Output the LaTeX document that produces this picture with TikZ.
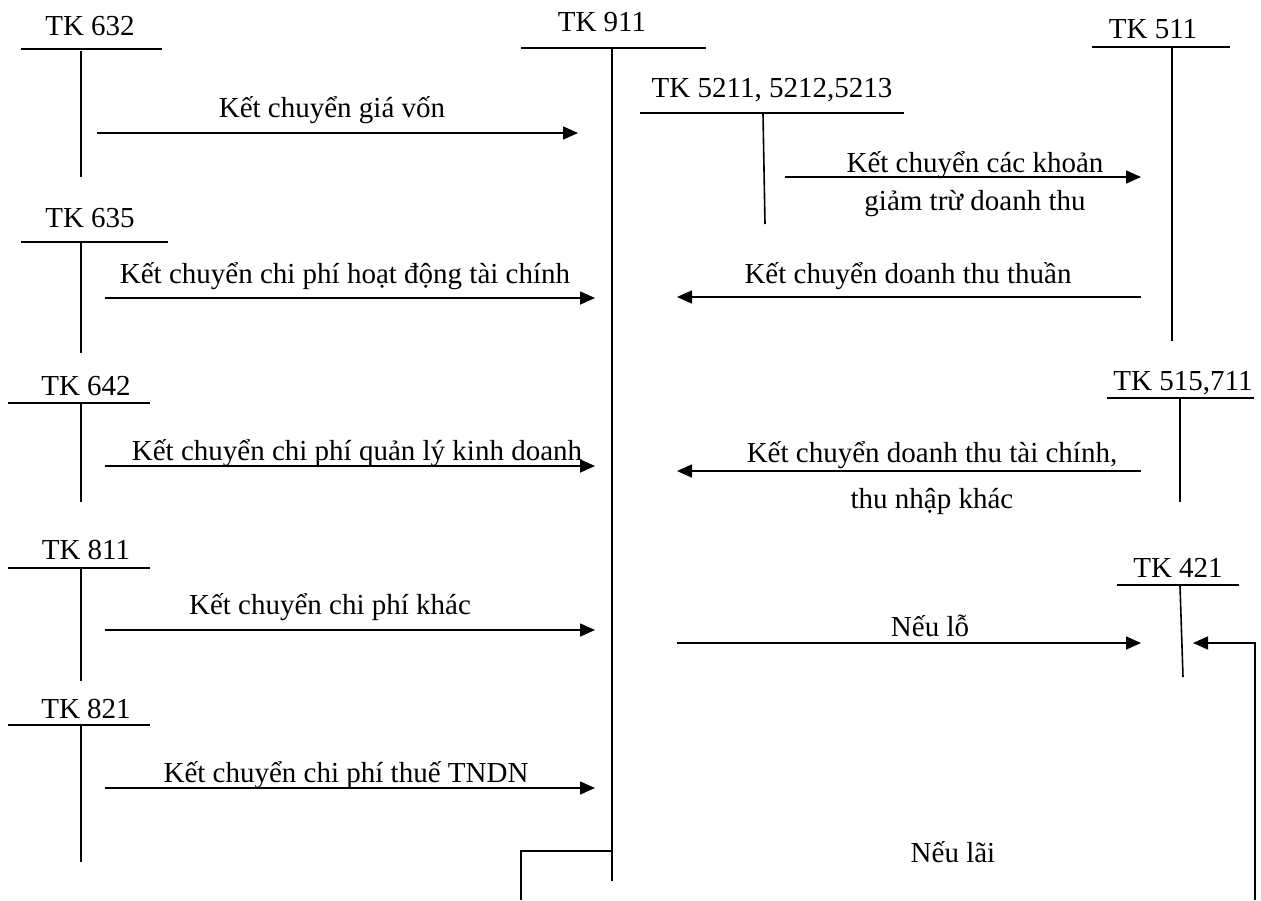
\documentclass[tikz,border=0pt]{standalone}
\usepackage{fontspec}
\setmainfont{Liberation Serif}
\usetikzlibrary{arrows.meta}
\begin{document}
\begin{tikzpicture}[x=1pt,y=-1pt,
  line width=1.6pt,
  lbl/.style={anchor=base,inner sep=0pt,font=\fontsize{29}{34}\selectfont},
  flow/.style={-{Triangle[length=15pt,width=13pt]}},
  pt/.style={inner sep=0pt,minimum size=0pt}]
\useasboundingbox (0,0) rectangle (1261,900);

% ---- T-accounts: name, top bar, stem ----
% TK 632
\node[lbl] (n632) at (90,35) {TK 632};
\draw (21,49) -- (162,49);
\draw (81,51) coordinate (a632) -- (81,177) coordinate (b632);
% TK 911
\node[lbl] (n911) at (602,31) {TK 911};
\draw (521,48) -- (706,48);
\draw (612,49) coordinate (a911) -- (612,881) coordinate (b911);
% TK 5211, 5212, 5213
\node[lbl] (n521) at (772,97) {TK 5211, 5212,5213};
\draw (640,113) -- (904,113);
\draw (763,114) coordinate (a521) -- (765,224) coordinate (b521);
% TK 511
\node[lbl] (n511) at (1153,38) {TK 511};
\draw (1092,47) -- (1230,47);
\draw (1172,48) coordinate (a511) -- (1172,341) coordinate (b511);
% TK 635
\node[lbl] (n635) at (90,227) {TK 635};
\draw (21,242) -- (168,242);
\draw (81,243) coordinate (a635) -- (81,353) coordinate (b635);
% TK 642
\node[lbl] (n642) at (86,395) {TK 642};
\draw (8,403) -- (150,403);
\draw (81,404) coordinate (a642) -- (81,502) coordinate (b642);
% TK 515,711
\node[lbl] (n515) at (1183,390) {TK 515,711};
\draw (1107,398) -- (1254,398);
\draw (1180,399) coordinate (a515) -- (1180,502) coordinate (b515);
% TK 811
\node[lbl] (n811) at (86,559) {TK 811};
\draw (8,568) -- (150,568);
\draw (81,569) coordinate (a811) -- (81,681) coordinate (b811);
% TK 421
\node[lbl] (n421) at (1178,577) {TK 421};
\draw (1117,585) -- (1239,585);
\draw (1180,586) coordinate (a421) -- (1183,677) coordinate (b421);
% TK 821
\node[lbl] (n821) at (86,718) {TK 821};
\draw (8,725) -- (150,725);
\draw (81,726) coordinate (a821) -- (81,862) coordinate (b821);

% ---- transfer arrows ----
\coordinate (s1) at (97,133);   \coordinate (e1) at (578,133);
\draw[flow] (s1) -- (e1);
\node[lbl] (t1) at (332,117) {Kết chuyển giá vốn};

\coordinate (s2) at (785,177);  \coordinate (e2) at (1141,177);
\draw[flow] (s2) -- (e2);
\node[lbl] (t2a) at (975,172) {Kết chuyển các khoản};
\node[lbl] (t2b) at (975,210) {giảm trừ doanh thu};

\coordinate (s3) at (105,298);  \coordinate (e3) at (595,298);
\draw[flow] (s3) -- (e3);
\node[lbl] (t3) at (345,283) {Kết chuyển chi phí hoạt động tài chính};

\coordinate (s4) at (1141,297); \coordinate (e4) at (677,297);
\draw[flow] (s4) -- (e4);
\node[lbl] (t4) at (908,283) {Kết chuyển doanh thu thuần};

\coordinate (s5) at (105,466);  \coordinate (e5) at (595,466);
\draw[flow] (s5) -- (e5);
\node[lbl] (t5) at (357,460) {Kết chuyển chi phí quản lý kinh doanh};

\coordinate (s6) at (1141,471); \coordinate (e6) at (677,471);
\draw[flow] (s6) -- (e6);
\node[lbl] (t6a) at (932,462) {Kết chuyển doanh thu tài chính,};
\node[lbl] (t6b) at (932,508) {thu nhập khác};

\coordinate (s7) at (105,630);  \coordinate (e7) at (595,630);
\draw[flow] (s7) -- (e7);
\node[lbl] (t7) at (330,614) {Kết chuyển chi phí khác};

\coordinate (s8) at (677,643);  \coordinate (e8) at (1141,643);
\draw[flow] (s8) -- (e8);
\node[lbl] (t8) at (930,636) {Nếu lỗ};

\coordinate (s9) at (105,788);  \coordinate (e9) at (595,788);
\draw[flow] (s9) -- (e9);
\node[lbl] (t9) at (346,782) {Kết chuyển chi phí thuế TNDN};

% profit: closing entry leaving the foot of TK 911 and returning into TK 421
\coordinate (p1) at (612,851);
\coordinate (p2) at (521,851);
\coordinate (p3) at (521,900);
\draw (p1) -- (p2) -- (p3);
\coordinate (q1) at (1255,900);
\coordinate (q2) at (1255,643);
\coordinate (q3) at (1193,643);
\draw[flow] (q1) -- (q2) -- (q3);
\node[lbl] (t10) at (953,862) {Nếu lãi};
\end{tikzpicture}
\end{document}
